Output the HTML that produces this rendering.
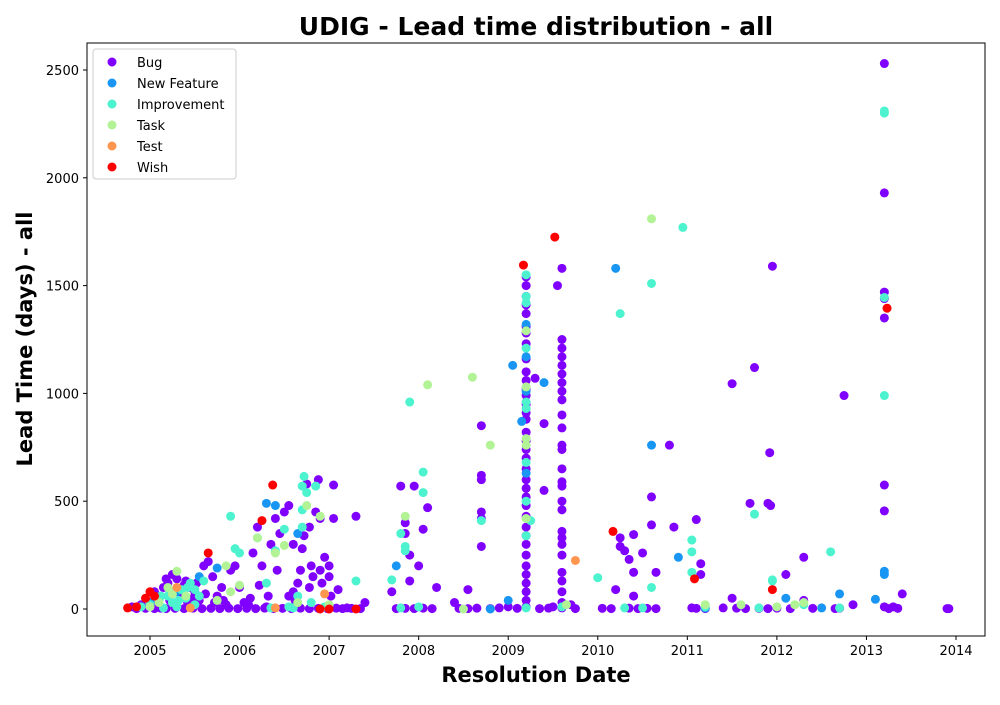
<!DOCTYPE html>
<html><head><meta charset="utf-8"><style>
body{margin:0;background:#fff;font-family:"Liberation Sans","DejaVu Sans",sans-serif;}
</style></head><body>
<svg id="chart" width="1000" height="700" xmlns="http://www.w3.org/2000/svg" font-family="'DejaVu Sans','Liberation Sans',sans-serif">
<rect width="1000" height="700" fill="#fff"/>
<text x="536" y="35" text-anchor="middle" font-size="25" font-weight="bold">UDIG - Lead time distribution - all</text>
<g id="marks"></g>
<rect x="87" y="43" width="898" height="593" fill="none" stroke="#000" stroke-width="1"/>
<g id="axes"></g>
<text x="536" y="682" text-anchor="middle" font-size="21" font-weight="bold">Resolution Date</text>
<text transform="translate(32,339) rotate(-90)" text-anchor="middle" font-size="21" font-weight="bold">Lead Time (days) - all</text>
<g id="legend"></g>
</svg>
<script>
const xTicks=[2005,2006,2007,2008,2009,2010,2011,2012,2013,2014];
const yTicks=[0,500,1000,1500,2000,2500];
const seriesNames=["Bug","New Feature","Improvement","Task","Test","Wish"];
const seriesColors=["#8000ff","#1996f3","#4df3ce","#b2f396","#ff964f","#ff0000"];
const bugPoints=[[2004.8,10],[2004.9,20],[2005.0,30],[2005.05,80],[2005.1,50],[2005.15,100],[2005.2,120],[2005.25,160],[2005.3,140],[2005.35,60],[2005.4,130],[2005.45,100],[2005.5,80],[2005.55,40],[2005.6,200],[2005.65,220],[2005.7,150],[2005.75,60],[2005.8,100],[2005.85,20],[2005.9,180],[2005.95,200],[2006.0,100],[2006.05,30],[2006.1,20],[2006.15,260],[2006.2,380],[2006.25,200],[2006.3,10],[2006.35,300],[2006.4,420],[2006.45,350],[2006.5,450],[2006.55,480],[2006.6,300],[2006.65,120],[2006.7,280],[2006.72,340],[2006.75,580],[2006.78,380],[2006.8,200],[2006.85,450],[2006.88,600],[2006.9,420],[2006.95,240],[2007.0,150],[2007.05,420],[2007.05,575],[2007.1,90],[2007.2,5],[2007.3,430],[2007.4,30],[2006.82,150],[2006.9,180],[2007.0,200],[2006.6,80],[2006.55,60],
[2005.08,20],[2005.12,60],[2005.22,40],[2005.32,90],[2005.42,30],[2005.52,120],[2005.18,140],[2005.28,10],[2005.38,110],[2005.48,50],[2005.62,70],[2005.72,30],[2005.82,40],[2006.12,50],[2006.22,110],[2006.32,60],[2006.42,180],[2006.62,40],[2006.68,180],[2006.78,100],[2006.92,120],[2007.02,60],
[2007.7,80],[2007.8,570],[2007.85,400],[2007.85,350],[2007.9,250],[2007.9,130],[2007.95,570],[2008.0,200],[2008.05,370],[2008.1,470],[2008.2,100],[2008.4,30],[2008.55,90],[2008.7,850],[2008.7,620],[2008.7,600],[2008.7,450],[2008.7,420],[2008.7,290],[2008.9,5],[2009.0,10],
[2009.2,1540],[2009.2,1500],[2009.2,1450],[2009.2,1410],[2009.2,1370],[2009.2,1310],[2009.2,1280],[2009.2,1230],[2009.2,1160],[2009.2,1100],[2009.2,1060],[2009.2,1020],[2009.2,990],[2009.2,950],[2009.2,910],[2009.2,880],[2009.2,820],[2009.2,780],[2009.2,740],[2009.2,700],[2009.2,650],[2009.2,600],[2009.2,560],[2009.2,520],[2009.2,480],[2009.2,430],[2009.2,380],[2009.2,340],[2009.2,300],[2009.2,250],[2009.2,200],[2009.2,160],[2009.2,120],[2009.2,80],[2009.2,40],[2009.2,10],
[2009.3,1070],[2009.4,860],[2009.4,550],[2009.55,1500],[2009.6,1580],
[2009.6,1250],[2009.6,1210],[2009.6,1170],[2009.6,1130],[2009.6,1090],[2009.6,1050],[2009.6,1010],[2009.6,970],[2009.6,900],[2009.6,840],[2009.6,760],[2009.6,740],[2009.6,650],[2009.6,590],[2009.6,570],[2009.6,500],[2009.6,460],[2009.6,360],[2009.6,330],[2009.6,300],[2009.6,250],[2009.6,170],[2009.6,130],[2009.6,80],[2009.6,30],[2009.6,5],[2009.5,10],[2009.7,20],
[2010.2,90],[2010.25,330],[2010.25,290],[2010.3,270],[2010.35,230],[2010.4,345],[2010.4,170],[2010.4,60],[2010.5,260],[2010.6,520],[2010.6,390],[2010.65,170],[2010.8,760],[2010.85,380],[2011.1,415],[2011.15,210],[2011.15,160],[2011.05,5],[2011.4,5],[2011.5,1045],[2011.5,50],[2011.7,490],[2011.75,1120],[2011.9,490],[2011.92,725],[2011.95,1590],[2011.93,480],[2012.1,160],[2012.3,240],[2012.3,40],[2012.75,990],[2012.85,20],[2013.2,2530],[2013.2,1930],[2013.2,1470],[2013.2,1440],[2013.2,1350],[2013.2,575],[2013.2,455],[2013.2,10],[2013.3,10],[2013.4,70],[2013.9,2],
[2004.85,2],[2004.95,3],[2005.05,2],[2005.12,4],[2005.18,2],[2005.28,3],[2005.38,2],[2005.48,4],[2005.58,2],[2005.68,3],[2005.78,2],[2005.88,4],[2005.98,2],[2006.08,3],[2006.18,2],[2006.28,4],[2006.38,2],[2006.48,3],[2006.58,2],[2006.68,4],[2006.78,2],[2006.88,3],[2006.98,2],[2007.08,4],[2007.15,2],[2007.25,3],[2007.35,2],[2007.75,2],[2007.85,3],[2007.95,2],[2008.05,4],[2008.15,2],[2008.45,3],[2008.55,2],[2008.65,4],[2008.8,2],[2009.1,3],[2009.35,2],[2009.45,4],[2009.75,2],[2010.05,3],[2010.15,2],[2010.35,4],[2010.45,2],[2010.55,3],[2010.65,2],[2011.1,3],[2011.2,2],[2011.55,4],[2011.65,2],[2011.8,3],[2011.9,2],[2012.0,4],[2012.15,2],[2012.4,3],[2012.65,2],[2012.7,4],[2013.25,2],[2013.35,3],[2013.92,2]];
const featurePoints=[[2005.0,30],[2005.3,80],[2005.55,150],[2005.75,190],[2006.3,490],[2006.4,480],[2006.65,350],[2007.75,200],[2008.8,0],[2009.05,1130],[2009.15,870],[2009.2,1320],[2009.2,1170],[2009.2,1010],[2009.2,630],[2009.4,1050],[2010.2,1580],[2010.6,760],[2010.9,240],[2011.2,5],[2012.1,50],[2012.5,5],[2012.7,70],[2013.1,45],[2013.2,175],[2013.2,160],[2009.0,40]];
const improvementPoints=[[2004.9,10],[2005.0,20],[2005.1,40],[2005.2,60],[2005.25,30],[2005.3,10],[2005.35,90],[2005.4,50],[2005.45,120],[2005.5,20],[2005.6,130],[2005.9,430],[2005.95,280],[2006.0,260],[2006.2,330],[2006.4,270],[2006.5,370],[2006.6,5],[2006.7,570],[2006.72,615],[2006.75,540],[2006.7,460],[2006.7,380],[2006.85,570],[2006.8,30],[2006.95,10],[2007.3,130],[2007.7,135],[2007.8,350],[2007.85,290],[2007.85,270],[2007.9,960],[2008.05,635],[2008.05,540],[2008.0,10],[2008.7,410],[2009.2,1550],[2009.2,1450],[2009.2,1420],[2009.2,1210],[2009.2,960],[2009.2,930],[2009.2,680],[2009.2,500],[2009.2,340],[2009.25,410],[2009.2,5],[2009.6,10],[2010.0,145],[2010.25,1370],[2010.3,5],[2010.6,1510],[2010.6,100],[2010.95,1770],[2011.05,320],[2011.05,265],[2011.05,170],[2011.2,10],[2011.75,440],[2011.95,135],[2011.95,130],[2012.6,265],[2013.2,2310],[2013.2,2300],[2013.2,1445],[2013.2,990],[2012.7,5],[2012.3,20],[2005.15,5],[2005.5,90],[2006.3,120],[2006.55,10],[2007.8,5],[2010.5,5],[2011.8,5],[2005.22,80],[2005.32,40],[2005.42,100],[2005.12,60],[2005.55,60],[2006.35,5],[2006.65,60]];
const taskPoints=[[2005.0,10],[2005.2,100],[2005.3,175],[2005.4,60],[2005.75,40],[2005.85,200],[2006.0,110],[2006.2,330],[2006.4,260],[2006.5,295],[2006.65,30],[2006.75,480],[2006.9,430],[2007.0,20],[2007.85,430],[2008.1,1040],[2008.6,1075],[2008.8,760],[2008.5,0],[2009.2,1290],[2009.2,1030],[2009.2,790],[2009.2,760],[2009.2,420],[2009.65,20],[2010.6,1810],[2011.2,20],[2011.6,20],[2012.2,20],[2012.3,30],[2012.0,10],[2005.1,30],[2005.25,70],[2005.9,80]];
const testPoints=[[2005.45,5],[2006.4,5],[2006.95,70],[2009.75,225],[2005.3,100]];
const wishPoints=[[2004.75,5],[2004.85,10],[2004.95,50],[2005.0,80],[2005.05,60],[2005.65,260],[2006.25,410],[2006.37,575],[2006.9,0],[2007.0,0],[2007.3,0],[2009.17,1595],[2009.52,1725],[2010.17,360],[2011.08,140],[2011.95,90],[2013.23,1395]];
const allSeries=[bugPoints,featurePoints,improvementPoints,taskPoints,testPoints,wishPoints];
const NS="http://www.w3.org/2000/svg";
function xScale(v){return 150+(v-2005)*(806/9);}
function yScale(v){return 609-v*(539/2500);}
const marks=document.getElementById('marks');
allSeries.forEach((pts,si)=>{
  pts.forEach(p=>{
    const c=document.createElementNS(NS,'circle');
    c.setAttribute('cx',xScale(p[0]));c.setAttribute('cy',yScale(p[1]));
    c.setAttribute('r',4.5);c.setAttribute('fill',seriesColors[si]);
    
    
    marks.appendChild(c);
  });
});
const axes=document.getElementById('axes');
xTicks.forEach(t=>{
  const x=xScale(t);
  const l=document.createElementNS(NS,'line');
  l.setAttribute('x1',x);l.setAttribute('x2',x);l.setAttribute('y1',636);l.setAttribute('y2',640);l.setAttribute('stroke','#000');
  
  
  axes.appendChild(l);
  const tx=document.createElementNS(NS,'text');
  tx.setAttribute('x',x);tx.setAttribute('y',655);tx.setAttribute('text-anchor','middle');tx.setAttribute('font-size','13');
  tx.textContent=t;
  
  
  axes.appendChild(tx);
});
yTicks.forEach(t=>{
  const y=yScale(t);
  const l=document.createElementNS(NS,'line');
  l.setAttribute('x1',83);l.setAttribute('x2',87);l.setAttribute('y1',y);l.setAttribute('y2',y);l.setAttribute('stroke','#000');
  
  
  axes.appendChild(l);
  const tx=document.createElementNS(NS,'text');
  tx.setAttribute('x',79);tx.setAttribute('y',y+5);tx.setAttribute('text-anchor','end');tx.setAttribute('font-size','13');
  tx.textContent=t;
  
  
  axes.appendChild(tx);
});
const lg=document.getElementById('legend');
const box=document.createElementNS(NS,'rect');
box.setAttribute('x',93);box.setAttribute('y',49);box.setAttribute('width',143);box.setAttribute('height',130);box.setAttribute('rx',3);
box.setAttribute('fill','#fff');box.setAttribute('fill-opacity','0.8');box.setAttribute('stroke','#ccc');


lg.appendChild(box);
seriesNames.forEach((n,i)=>{
  const y=62+i*21;
  const c=document.createElementNS(NS,'circle');
  c.setAttribute('cx',112);c.setAttribute('cy',y);c.setAttribute('r',4.5);c.setAttribute('fill',seriesColors[i]);
  
  
  lg.appendChild(c);
  const t=document.createElementNS(NS,'text');
  t.setAttribute('x',137);t.setAttribute('y',y+5);t.setAttribute('font-size','13');t.textContent=n;
  
  
  lg.appendChild(t);
});
</script>
</body></html>
